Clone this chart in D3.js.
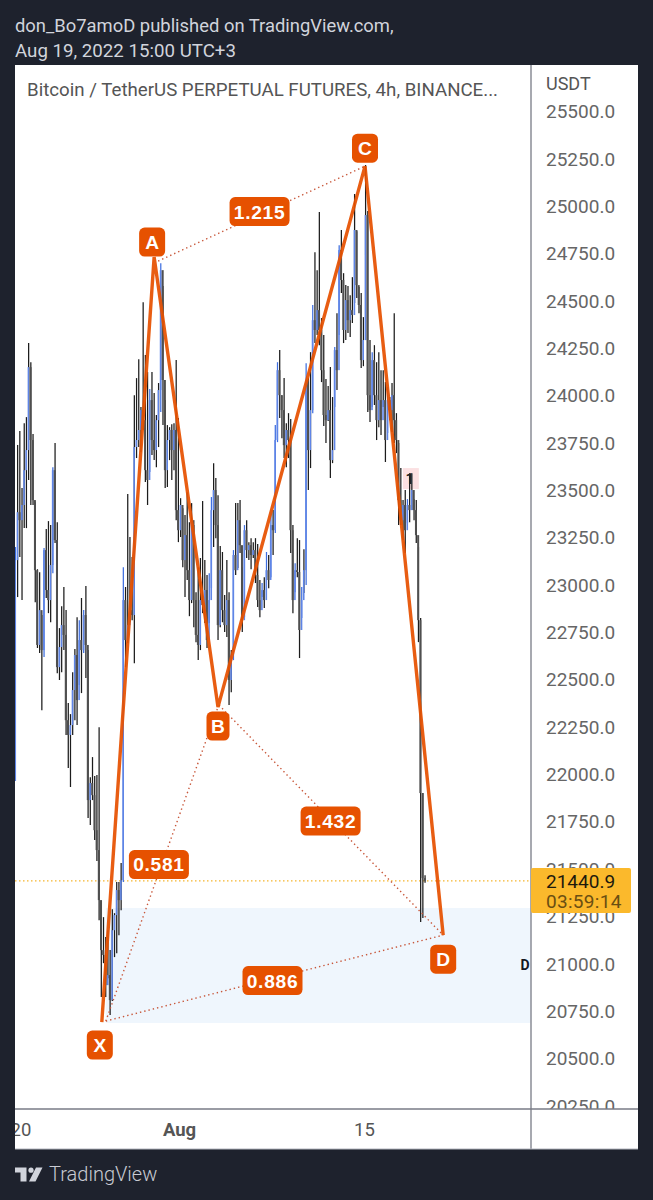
<!DOCTYPE html>
<html><head><meta charset="utf-8">
<script src="https://cdn.jsdelivr.net/npm/d3@7"></script>
<style>html,body{margin:0;padding:0;background:#1e222d}svg{display:block}text{font-family:Roboto,"Noto Sans",sans-serif}</style>
</head><body><div id="c"></div>
<script>
const highs=[23203,23742,23816,23515,23857,23889,24280,24179,23800,23440,23086,23070,22844,23198,23298,23340,23319,23625,23752,23334,22775,22891,22992,22870,22379,22321,22542,22665,22833,22817,22934,22870,22997,22659,21988,22094,21994,21999,22252,21328,21249,21144,21180,21075,21291,21270,21434,21434,21535,23097,22992,23483,23256,23150,24005,24095,24195,23942,24496,24217,24127,24037,24127,24016,23900,24069,24702,24581,23979,23847,23836,23852,23857,24190,23884,23461,23408,23372,23493,23334,23435,23319,22965,23097,23145,23446,23134,23055,23065,23467,23646,23567,23477,23208,23177,22950,23134,22965,22659,23187,23435,23435,23451,23097,23319,23345,23229,23250,23229,23250,23219,23029,23013,23044,23177,23161,23398,23398,23847,24179,24243,24005,24095,23857,23910,23879,23319,23118,23250,23240,22992,23192,24174,24095,24232,24481,24760,24665,24972,24412,24322,24090,24053,24153,23995,24259,24438,24797,24877,24649,24586,24581,24533,24628,25067,24871,24576,24544,24417,25220,24977,24296,24232,24269,24179,24232,24137,24137,24074,24048,23995,24069,24438,23910,23752,23620,23451,23504,23456,23593,23593,23456,23451,23203,22828,21904,21470];
const lows=[21968,22939,23150,22923,23303,23303,23557,23425,23425,22912,22670,22643,22342,22622,22934,22854,22806,23065,23224,22537,22501,22542,22659,22211,22036,21936,22211,22289,22263,22475,22432,22643,22511,21772,21735,21867,21656,21545,21233,20827,21006,20827,20927,20732,20806,21038,21059,21154,21286,21434,22569,22696,22806,22817,22590,23673,23731,23704,23821,23546,23425,23599,23689,23662,23625,23731,23916,23847,23515,23520,23662,23557,23609,23345,23229,23256,23097,22939,23029,22838,22907,22780,22701,22606,22659,22854,22802,22670,22802,22986,23203,23250,22712,22780,22806,22754,22728,22369,22437,22606,23055,23092,23171,22754,22833,23145,23134,23086,23145,23013,22886,22833,22939,22881,23044,22986,23044,23161,23277,23757,23884,23778,23673,23625,23673,23171,22854,22965,23044,22617,22828,22960,23002,23504,23620,23910,24280,24322,24269,24074,23842,23752,23868,23567,23646,23942,24032,24322,24544,24280,24296,24333,24312,24386,24491,24518,24438,24148,24158,24296,23916,23863,23942,23953,23768,23836,23794,23942,23652,23805,23873,23810,23752,23699,23319,23319,23240,23171,23329,23334,23398,23345,23224,22701,21223,21244,21430];
const closes=[23134,23387,23345,23425,23609,23715,24153,23768,23451,23081,22686,22870,22659,23187,22976,22923,23108,23609,23240,22569,22675,22791,22739,22289,22211,22263,22448,22633,22395,22712,22659,22844,22686,21867,21957,21893,21708,21603,21339,21075,21049,20890,20943,20811,21180,21260,21392,21339,21444,22923,22712,22791,22870,22844,23731,23768,23821,23926,23873,23609,23557,23979,23768,23715,23873,24032,24665,24085,23609,23768,23821,23715,23821,23398,23292,23425,23134,23266,23081,22923,23345,22923,22739,22686,22923,22897,22976,22712,22923,23398,23504,23319,22791,23081,22870,22791,22923,22501,22633,23161,23081,23345,23213,22817,23292,23187,23213,23161,23187,23055,22923,22870,22976,22923,23081,23029,23319,23292,23768,24137,24005,23926,23741,23821,23768,23292,22923,23081,23071,22765,22923,23081,24085,23715,23926,24401,24349,24454,24349,24137,23900,23873,23926,23662,23715,24243,24137,24771,24613,24349,24507,24401,24454,24428,24877,24586,24481,24190,24296,24956,24005,23926,24190,24005,23873,23979,23873,23979,23768,23979,23926,24005,23873,23768,23451,23345,23425,23292,23425,23398,23504,23398,23266,22817,21904,21455,21441];
const firstOpen=21968;
const lastTime=Date.UTC(2022,7,19,12);
const priceTicks=[25500,25250,25000,24750,24500,24250,24000,23750,23500,23250,23000,22750,22500,22250,22000,21750,21500,21250,21000,20750,20500,20250];
const timeTicks=[new Date(Date.UTC(2022,6,20)),new Date(Date.UTC(2022,7,1)),new Date(Date.UTC(2022,7,15))];
const timeLabels=["20","Aug","15"];
const patternNames=["X","A","B","C","D"];
const patternTimes=[Date.UTC(2022,6,26,2),Date.UTC(2022,6,30,1),Date.UTC(2022,7,3,21),Date.UTC(2022,7,15,0),Date.UTC(2022,7,20,22)];
const patternPrices=[20695,24734,22358,25214,21154];
const ratioLinks=[[1,3,"1.215"],[2,4,"1.432"],[0,2,"0.581"],[0,4,"0.886"]];
const zonePrices=[21297,20690];
const lastPrice=21440.9;
const countdown="03:59:14";

const W=653,H=1200,L=15,R=638,T=65,B=1149,AX=531,AY=1109;
const orange="#e65100";
const x=d3.scaleUtc().domain([Date.UTC(2022,7,1),Date.UTC(2022,7,15)]).range([180,365]);
const y=d3.scaleLinear().domain([20500,25500]).range([1059,112]);
const n=closes.length;
const bars=closes.map((c,i)=>({t:lastTime-(n-1-i)*4*3600e3,h:highs[i],l:lows[i],c,o:i?closes[i-1]:firstOpen}));

const svg=d3.select("#c").append("svg").attr("width",W).attr("height",H);
const defs=svg.append("defs");
defs.append("clipPath").attr("id","pane").append("rect").attr("x",L).attr("y",T).attr("width",AX-L-.5).attr("height",AY-T);
defs.append("clipPath").attr("id","paxis").append("rect").attr("x",AX).attr("y",T).attr("width",R-AX).attr("height",AY-T);
defs.append("clipPath").attr("id","taxis").append("rect").attr("x",L).attr("y",AY).attr("width",AX-L).attr("height",B-AY);

svg.append("rect").attr("width",W).attr("height",H).attr("fill","#1e222d");
svg.append("rect").attr("x",L).attr("y",T).attr("width",R-L).attr("height",B-T).attr("fill","#fff");

const hdr=svg.append("g").attr("fill","#d1d4dc").attr("font-size",18.4);
hdr.append("text").attr("x",15).attr("y",32).text("don_Bo7amoD published on TradingView.com,");
hdr.append("text").attr("x",15).attr("y",57).attr("font-size",18.7).text("Aug 19, 2022 15:00 UTC+3");

const pane=svg.append("g").attr("clip-path","url(#pane)");
pane.append("rect").attr("x",x(patternTimes[0])+4).attr("width",AX-x(patternTimes[0])).attr("y",y(zonePrices[0])).attr("height",y(zonePrices[1])-y(zonePrices[0])).attr("fill","#eff6fd");
// alert marker
pane.append("rect").attr("x",x(bars[178].t)-4).attr("y",y(23620)).attr("width",16).attr("height",21).attr("fill","#fbe0e2");
pane.append("line").attr("x1",L).attr("x2",AX).attr("y1",y(lastPrice)).attr("y2",y(lastPrice)).attr("stroke","#f5b52e").attr("stroke-width",1.2).attr("stroke-dasharray","1.5 2.5");

pane.append("g").selectAll("line").data(bars).join("line")
 .attr("x1",d=>x(d.t)+.6).attr("x2",d=>x(d.t)+.6).attr("y1",d=>y(d.h)).attr("y2",d=>y(d.l))
 .attr("stroke",d=>(d.c>d.o&&y(d.o)-y(d.c)>(y(d.l)-y(d.h))*.8)?"#3f6fe0":"#1c1c1c").attr("stroke-width",1.25);
pane.append("g").selectAll("rect").data(bars).join("rect")
 .attr("x",d=>x(d.t)-(d.c>d.o?.4:.7)).attr("width",d=>d.c>d.o?1.6:2)
 .attr("y",d=>y(Math.max(d.o,d.c))).attr("height",d=>Math.max(1,Math.abs(y(d.o)-y(d.c))))
 .attr("fill",d=>d.c>d.o?"#5f85e6":"#4f4f4f");
pane.append("text").attr("x",x(bars[178].t)+3).attr("y",y(23620)+16).attr("text-anchor","middle").attr("font-size",15).attr("font-weight",700).attr("fill","#222").text("1");
pane.append("text").attr("x",520.5).attr("y",970).attr("font-size",14).attr("font-weight",700).attr("fill","#131722").text("D");

const P=i=>[x(patternTimes[i]),y(patternPrices[i])];
const dotted=pane.append("g");
ratioLinks.forEach(([a,b,lab])=>{
  const pa=P(a),pb=P(b),dx=(a<2?4:1);
  dotted.append("line").attr("x1",pa[0]+dx).attr("y1",pa[1]+(a==1?4:(a==0?-1:-2))).attr("x2",pb[0]).attr("y2",pb[1]).attr("stroke","#c8573a").attr("stroke-width",1.4).attr("stroke-dasharray","1.4 3");
});
pane.append("path").attr("d",d3.line()(patternNames.map((_,i)=>P(i)))).attr("fill","none").attr("stroke",orange).attr("stroke-width",3.4).attr("stroke-linejoin","miter").attr("opacity",.93);

function badge(cx,cy,w,h,txt,fs){
  const g=pane.append("g");
  g.append("rect").attr("x",cx-w/2).attr("y",cy-h/2).attr("width",w).attr("height",h).attr("rx",5.5).attr("fill",orange);
  g.append("text").attr("x",cx).attr("y",cy+fs*.36).attr("text-anchor","middle").attr("font-size",fs).attr("font-weight",700).attr("fill","#fff").style("font-family","'Liberation Sans',Arial,sans-serif").attr("letter-spacing",txt.length>1?.7:0).text(txt);
}
ratioLinks.forEach(([a,b,lab])=>{const pa=P(a),pb=P(b);badge((pa[0]+pb[0])/2-(a==0&&b==2?1:0),(pa[1]+pb[1])/2+(a==0&&b==4?2:0),60,29,lab,19.2)});
const off=[23,-15,19,-18,24];
patternNames.forEach((nm,i)=>{const p=P(i);badge(p[0]-(i==0?2:i==1?2:0),p[1]+off[i],i==0||i==4?26:(i==2?23:26),29,nm,19.2)});

// axes
const pa=svg.append("g").attr("clip-path","url(#paxis)");
const ag=pa.append("g").attr("transform",`translate(${AX},0)`).call(d3.axisRight(y).tickValues(priceTicks).tickSize(0).tickPadding(15).tickFormat(d3.format(".1f")));
ag.select(".domain").remove();
ag.selectAll("text").attr("font-size",19).attr("fill","#666").style("font-family","Roboto,sans-serif").attr("dy","0.3em");
svg.append("text").attr("x",546).attr("y",90).attr("font-size",18).attr("fill","#555").text("USDT");
svg.append("text").attr("x",27).attr("y",96).attr("font-size",18.7).attr("fill","#555").text("Bitcoin / TetherUS PERPETUAL FUTURES, 4h, BINANCE...");

const tg=svg.append("g").attr("clip-path","url(#taxis)").append("g").attr("transform",`translate(-1,${AY})`)
 .call(d3.axisBottom(x).tickValues(timeTicks).tickSize(0).tickPadding(14).tickFormat((d,i)=>timeLabels[i]));
tg.select(".domain").remove();
tg.selectAll("text").attr("font-size",18.5).attr("fill","#555").style("font-family","Roboto,sans-serif").attr("font-weight",(d,i)=>timeLabels[i]=="Aug"?700:400);

svg.append("line").attr("x1",AX).attr("x2",AX).attr("y1",T).attr("y2",B).attr("stroke","#787b86").attr("stroke-width",1.3);
svg.append("line").attr("x1",L).attr("x2",R).attr("y1",AY).attr("y2",AY).attr("stroke","#787b86").attr("stroke-width",1.3);
svg.append("line").attr("x1",L).attr("x2",R).attr("y1",B).attr("y2",B).attr("stroke","#b2b5be").attr("stroke-width",1);

// last price tag
svg.append("rect").attr("x",AX).attr("y",868).attr("width",100).attr("height",45).attr("rx",2).attr("fill","#fbb92c");
svg.append("text").attr("x",546).attr("y",y(lastPrice)+7).attr("font-size",19).attr("fill","#1e1a0c").text(d3.format(".1f")(lastPrice));
svg.append("text").attr("x",546).attr("y",908).attr("font-size",19).attr("letter-spacing",.3).attr("fill","#6a4e12").text(countdown);

// logo
const lg=svg.append("g").attr("fill","#d1d4dc");
lg.append("path").attr("d","M15 1167.5H26.5V1181.5H20.5V1172.5H15Z");
lg.append("circle").attr("cx",31).attr("cy",1170.2).attr("r",2.6);
lg.append("path").attr("d","M36 1167.5H42.5L35.5 1181.5H29Z");
svg.append("text").attr("x",49).attr("y",1181).attr("font-size",20).attr("font-weight",300).attr("fill","#c8cbd3").text("TradingView");
</script></body></html>
